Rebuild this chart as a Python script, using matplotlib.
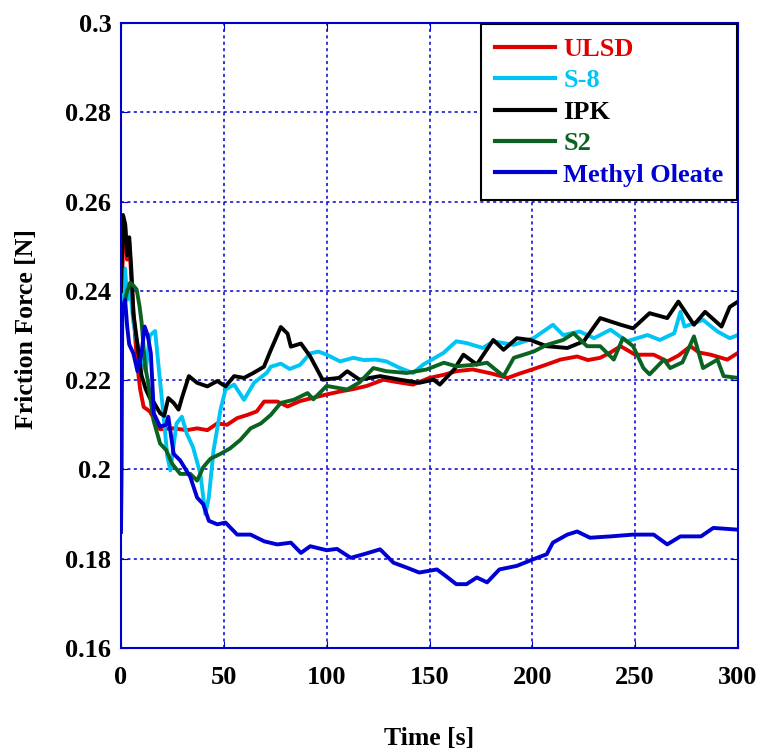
import numpy as np
import matplotlib
matplotlib.use("Agg")
import matplotlib.pyplot as plt

plt.rcParams['font.family'] = ['Liberation Serif', 'DejaVu Serif']
plt.rcParams['font.weight'] = 'bold'

# ULSD
t_ulsd = [0, 1, 2, 3, 4, 5, 6, 7, 8, 9.3, 11, 14, 19, 25.6, 32, 37, 42, 46.8, 51.6, 56.5,
          61.4, 66, 69.6, 76, 81, 87, 93, 100, 107, 113, 119.5, 127.6, 135, 142, 150, 157,
          163, 171, 180, 188, 194, 200, 207, 213.6, 221.8, 227, 233, 238, 242.9, 250, 259,
          265.6, 271, 276.9, 281, 286.7, 294.8, 300]
f_ulsd = [0.232, 0.25, 0.255, 0.247, 0.251, 0.243, 0.236, 0.229, 0.223, 0.218, 0.214, 0.213,
          0.209, 0.2092, 0.2088, 0.2092, 0.2088, 0.2103, 0.210, 0.2115, 0.2122, 0.213, 0.2152,
          0.2152, 0.2141, 0.2153, 0.216, 0.2168, 0.2175, 0.218, 0.2187, 0.2201, 0.2195, 0.219,
          0.2205, 0.2212, 0.222, 0.2224, 0.2215, 0.2205, 0.2215, 0.2224, 0.2235, 0.2246, 0.2253,
          0.2245, 0.225, 0.2262, 0.2276, 0.2257, 0.2257, 0.2242, 0.2255, 0.2276, 0.2262, 0.2257,
          0.2246, 0.2261]

# S-8
t_s8 = [0, 1, 2, 3, 4.4, 6, 8, 10, 12, 14, 16.6, 18.5, 20.7, 22.5, 24, 27, 29.6, 32, 35, 38.6,
        41, 42.7, 45, 48.4, 50.8, 55, 59.8, 64.7, 71, 72.8, 77.7, 82, 87, 92, 96, 100, 106.5,
        113, 118, 124, 129, 135.7, 142, 147, 156.8, 163, 168, 176, 181, 191, 200.6, 210, 215,
        223, 230, 238, 246, 256, 262, 269, 272, 274, 283, 290, 296, 300]
f_s8 = [0.222, 0.24, 0.245, 0.238, 0.241, 0.233, 0.228, 0.225, 0.222, 0.23, 0.231, 0.222, 0.212,
        0.203, 0.1998, 0.2103, 0.2118, 0.208, 0.205, 0.199, 0.190, 0.1937, 0.2043, 0.2134,
        0.2179, 0.219, 0.2156, 0.2194, 0.2217, 0.223, 0.2237, 0.2225, 0.2234, 0.226, 0.2264,
        0.2257, 0.2242, 0.225, 0.2245, 0.2246, 0.2242, 0.2227, 0.2216, 0.2235, 0.2261, 0.2287,
        0.2283, 0.2272, 0.2287, 0.2279, 0.2294, 0.2324, 0.2301, 0.2309, 0.2294, 0.2313, 0.2287,
        0.2301, 0.229, 0.2305, 0.2353, 0.232, 0.2335, 0.2309, 0.2294, 0.2301]

# IPK
t_ipk = [0, 1, 2, 3, 4, 5, 6, 8, 10, 12, 14, 16, 19, 21, 23, 25.6, 28, 29.6, 33, 37, 42, 46.8,
         50.8, 55, 59.8, 64.7, 69.5, 72.8, 77.7, 81, 82.6, 87.5, 92, 96.4, 98, 106, 110, 116,
         126, 135.7, 145, 152, 155, 162, 166.5, 173, 181, 186, 192.5, 199, 207, 217, 225, 233,
         243, 249, 257, 265.6, 271, 278.6, 284, 292, 296, 300]
f_ipk = [0.24, 0.257, 0.255, 0.248, 0.252, 0.245, 0.235, 0.228, 0.221, 0.218, 0.216, 0.215,
         0.2126, 0.212, 0.216, 0.2149, 0.2134, 0.216, 0.2209, 0.2194, 0.2186, 0.2198, 0.2186,
         0.2209, 0.2205, 0.2217, 0.223, 0.2267, 0.2319, 0.2304, 0.2275, 0.2282, 0.2253, 0.2215,
         0.2201, 0.2205, 0.222, 0.2201, 0.2209, 0.2201, 0.2194, 0.2201, 0.219, 0.2224, 0.2257,
         0.2235, 0.229, 0.2268, 0.2294, 0.229, 0.2276, 0.2272, 0.2287, 0.2339, 0.2324, 0.2316,
         0.235, 0.2339, 0.2376, 0.2324, 0.2353, 0.232, 0.2364, 0.2376]

# S2
t_s2 = [0, 1, 2, 3, 4.4, 6, 7.6, 9, 10, 11.7, 13, 15.8, 19, 22, 24.8, 28.8, 33.7, 37, 40, 43.5,
        48.4, 53, 58, 63, 68, 72.8, 77.7, 84, 90.7, 93.5, 100, 110, 116, 122.7, 129, 139,
        148.7, 157, 163, 173, 178, 186, 191, 200.6, 207, 215, 220, 226.6, 233, 239.6, 244, 249,
        254, 257, 264, 267, 273, 278.6, 283, 290, 293, 300]
f_s2 = [0.232, 0.236, 0.238, 0.24, 0.2418, 0.2412, 0.2403, 0.2366, 0.233, 0.2232, 0.22, 0.211,
        0.2058, 0.2043, 0.2013, 0.199, 0.199, 0.1975, 0.2005, 0.2024, 0.2035, 0.2047, 0.2066,
        0.2092, 0.2103, 0.2122, 0.2149, 0.2156, 0.2171, 0.2157, 0.2187, 0.2179, 0.2195, 0.2227,
        0.222, 0.2216, 0.2224, 0.2239, 0.2231, 0.2235, 0.2239, 0.2209, 0.225, 0.2264, 0.2279,
        0.229, 0.2305, 0.2276, 0.2276, 0.2246, 0.2294, 0.2276, 0.2227, 0.2213, 0.2246, 0.2227,
        0.224, 0.2298, 0.2227, 0.2246, 0.2209, 0.2205]

# Methyl Oleate
t_mo = [0, 0.3, 0.6, 2, 3, 4, 6, 8, 10, 11.5, 13, 14.5, 16, 19, 22, 23, 25.6, 28.8, 33.7, 37, 40,
        42.7, 46.8, 50.8, 56.5, 63, 69.6, 76, 82.6, 87.5, 92, 100, 105, 111.7, 118, 126, 132.5,
        139, 145, 153.6, 158, 163, 168, 173, 178, 184, 192.5, 200.6, 207, 210, 217, 221.8, 228,
        238, 249, 259, 265.6, 272, 282, 288, 300]
f_mo = [0.186, 0.2, 0.236, 0.238, 0.232, 0.228, 0.226, 0.222, 0.226, 0.232, 0.23, 0.226, 0.2125,
        0.2096, 0.21, 0.2118, 0.2035, 0.202, 0.1983, 0.1937, 0.1922, 0.1885, 0.1877, 0.1881,
        0.1854, 0.1854, 0.1839, 0.1832, 0.1836, 0.1813, 0.1828, 0.1819, 0.1822, 0.1802, 0.181,
        0.1821, 0.1791, 0.178, 0.1769, 0.1776, 0.1761, 0.1743, 0.1743, 0.1758, 0.1747, 0.1776,
        0.1784, 0.1799, 0.181, 0.1836, 0.1854, 0.1861, 0.1847, 0.185, 0.1854, 0.1854, 0.1832,
        0.185, 0.185, 0.1869, 0.1865]

names = ['ULSD', 'S-8', 'IPK', 'S2', 'Methyl Oleate']
colors = ['#e00000', '#00c4f4', '#000000', '#0b6321', '#0000d4']
xticks = [0, 50, 100, 150, 200, 250, 300]
yticks = [0.16, 0.18, 0.2, 0.22, 0.24, 0.26, 0.28, 0.3]
yticklabels = ['0.16', '0.18', '0.2', '0.22', '0.24', '0.26', '0.28', '0.3']

fig = plt.figure(figsize=(7.6, 7.52), dpi=100)
ax = fig.add_axes([121/760, 1 - 648/752, 617/760, 625/752])

series = [(t_ulsd, f_ulsd), (t_s8, f_s8), (t_ipk, f_ipk), (t_s2, f_s2), (t_mo, f_mo)]
for (t, f), name, c in zip(series, names, colors):
    ax.plot(t, f, color=c, lw=2.8, label=name)

ax.set_xlim(0, 300)
ax.set_ylim(0.16, 0.3)
ax.set_xticks(xticks)
ax.set_yticks(yticks)
ax.set_yticklabels(yticklabels)

blue = '#0000cc'
ax.grid(True, color=blue, linestyle=(0, (2, 2.2)), lw=1.1)
for s in ax.spines.values():
    s.set_color(blue)
    s.set_linewidth(1.5)
ax.tick_params(axis='both', direction='in', length=5, color=blue, labelsize=19,
               top=True, right=True)
ax.tick_params(axis='x', pad=13)
ax.tick_params(axis='y', pad=7)
for lab in ax.get_xticklabels() + ax.get_yticklabels():
    lab.set_fontweight('bold')

ax.set_xlabel('Time [s]', fontsize=18.5, fontweight='bold')
ax.set_ylabel('Friction Force [N]', fontsize=18.5, fontweight='bold')
ax.xaxis.set_label_coords(0.5, -0.126)
ax.yaxis.set_label_coords(-0.135, 0.51)

leg = ax.legend(loc='upper right', bbox_to_anchor=(1.0, 1.0), borderaxespad=0.05,
                frameon=True, fancybox=False, framealpha=1,
                edgecolor='black', handlelength=2.3, handletextpad=0.3,
                labelspacing=0.3, borderpad=0.5, prop={'weight': 'bold', 'size': 19})
leg.get_frame().set_linewidth(1.5)
for txt, c in zip(leg.get_texts(), colors):
    txt.set_color(c)
for ln in leg.get_lines():
    ln.set_linewidth(3)

fig.savefig('out.png', dpi=100)
